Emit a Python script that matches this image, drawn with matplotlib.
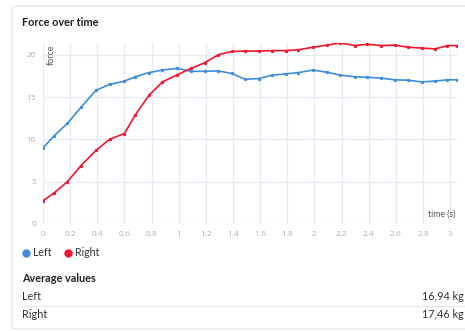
import matplotlib
matplotlib.use("Agg")
import matplotlib.pyplot as plt
from matplotlib.patches import FancyBboxPatch

# sample times (s) and forces
time_s = [0, 0.08, 0.18, 0.28, 0.39, 0.49, 0.6, 0.68, 0.78, 0.88, 0.99, 1.09,
          1.19, 1.29, 1.39, 1.49, 1.59, 1.69, 1.79, 1.88, 1.99, 2.09, 2.19,
          2.3, 2.39, 2.49, 2.59, 2.69, 2.79, 2.89, 2.98, 3.05]
left_force = [9.0, 10.4, 11.9, 13.8, 15.8, 16.5, 16.9, 17.4, 17.9, 18.2, 18.4,
              18.05, 18.05, 18.1, 17.8, 17.1, 17.2, 17.6, 17.75, 17.9, 18.2,
              17.95, 17.6, 17.4, 17.35, 17.25, 17.05, 17.0, 16.8, 16.9, 17.05,
              17.05]
right_force = [2.75, 3.65, 5.0, 6.9, 8.7, 10.0, 10.7, 12.9, 15.2, 16.8, 17.65,
               18.4, 19.05, 20.0, 20.4, 20.45, 20.45, 20.5, 20.5, 20.6, 20.9,
               21.15, 21.4, 21.1, 21.25, 21.1, 21.15, 20.9, 20.8, 20.7, 21.1,
               21.1]
xticks = [0, 0.2, 0.4, 0.6, 0.8, 1, 1.2, 1.4, 1.6, 1.8, 2, 2.2, 2.4, 2.6, 2.8, 3]
yticks = [0, 5, 10, 15, 20]
series_names = ["Left", "Right"]
averages = ["16,94 kg", "17,46 kg"]

BLUE = "#3d8ddb"
RED = "#f0162e"
GRID = "#e6ebf3"
TICK = "#b0b0b0"
DARK = "#333333"

plt.rcParams["font.family"] = ["Lato", "DejaVu Sans"]

fig = plt.figure(figsize=(4.65, 3.31), dpi=100)
W, H = 465, 331

def fx(px):
    return px / W

def fy(py):
    return 1 - py / H

# card background
card = FancyBboxPatch((fx(12), fy(329)), fx(470) - fx(12), fy(6) - fy(329),
                      boxstyle="round,pad=0,rounding_size=0.012",
                      transform=fig.transFigure, facecolor="white",
                      edgecolor="#e4e7ec", linewidth=1.0, zorder=-5)
fig.patches.append(card)

fig.text(fx(22), fy(23), "Force over time", fontsize=7.8, fontweight="bold",
         color="#222222", va="center", ha="left")

ax = fig.add_axes([fx(43), fy(224), fx(457) - fx(43), fy(43) - fy(224)])
ax.set_zorder(2)
ax.set_facecolor("none")
ax.plot(time_s, left_force, color=BLUE, lw=1.2, marker="o", ms=1.4,
        label=series_names[0], zorder=3)
ax.plot(time_s, right_force, color=RED, lw=1.2, marker="o", ms=1.4,
        label=series_names[1], zorder=3)

ax.set_xlim(0, 3.05)
ax.set_ylim(0, 21.4)
ax.set_xticks(xticks)
ax.set_xticklabels([f"{t:g}" for t in xticks])
ax.set_yticks(yticks)
ax.grid(True, color=GRID, lw=1.0)
ax.set_axisbelow(True)
for s in ax.spines.values():
    s.set_visible(False)
ax.tick_params(length=0, labelsize=6, colors=TICK, pad=5)
for lab in ax.get_xticklabels() + ax.get_yticklabels():
    lab.set_family(["Open Sans", "DejaVu Sans"])

ax.text(0.02, 0.99, "force", transform=ax.transAxes, rotation=90,
        fontsize=6.5, color="#555555", ha="center", va="top")
ax.text(0.997, 0.03, "time (s)", transform=ax.transAxes, fontsize=6.2,
        color="#555555", ha="right", va="bottom")

# legend
for i, (name, col) in enumerate(zip(series_names, [BLUE, RED])):
    x0 = 26 + i * 42
    fig.lines.append(plt.Line2D([fx(x0)], [fy(253)], marker="o", ms=5,
                                color=col, transform=fig.transFigure))
    fig.text(fx(x0 + 7), fy(253), name, fontsize=7.6, color=DARK,
             va="center", ha="left")

fig.text(fx(22), fy(278), "Average values", fontsize=7.8, fontweight="bold",
         color="#222222", va="center", ha="left")
for i, (name, val) in enumerate(zip(series_names, averages)):
    y = 296 + i * 18
    fig.text(fx(22), fy(y), name, fontsize=7.8, color=DARK, va="center")
    fig.text(fx(464), fy(y), val, fontsize=7.8, color=DARK, va="center",
             ha="right")
fig.lines.append(plt.Line2D([fx(22), fx(465)], [fy(305.5), fy(305.5)],
                            color="#e8ebef", lw=1.0, transform=fig.transFigure))

fig.savefig("out.png", dpi=100)
